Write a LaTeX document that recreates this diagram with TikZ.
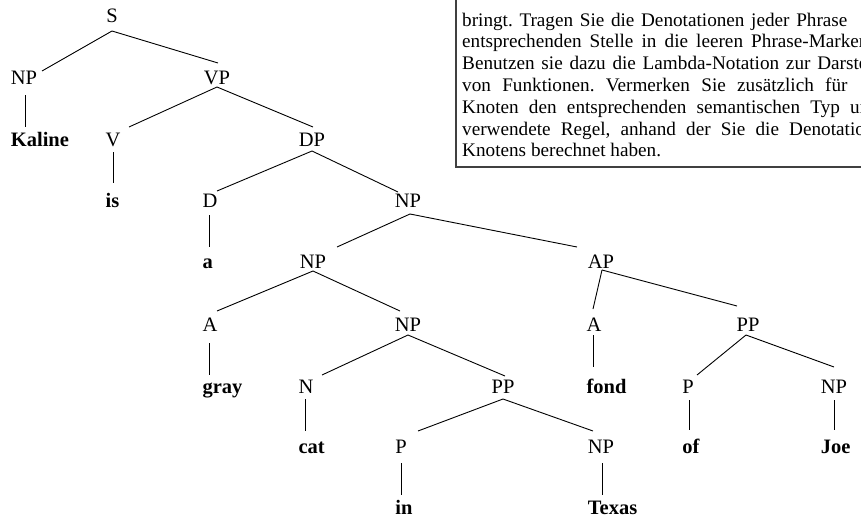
\documentclass[tikz,border=0pt]{standalone}
\usepackage{fontspec}
\setmainfont{Liberation Serif}
\usetikzlibrary{calc}
% justified line: the first words are spread over #1 pt, then the last word follows
\newcommand\jline[3]{\makebox[#1pt][s]{#2\ }#3}
\begin{document}
\frenchspacing
\begin{tikzpicture}[x=1pt,y=-1pt,
  cat/.style={font=\fontsize{20.5}{24}\selectfont, inner sep=0pt, text height=13.6pt, text depth=0pt},
  leaf/.style={cat, font=\fontsize{20.5}{24}\selectfont\bfseries, anchor=west},
  branch/.style={line width=0.9pt},
  boxtext/.style={font=\fontsize{19.2}{21.8}\selectfont, inner sep=0pt, anchor=base west},
  frame/.style={line width=1.2pt, draw=black!75}]
\useasboundingbox (0,0) rectangle (861,522);
\clip (0,0) rectangle (861,522);

% ---- instruction box (runs past the page edge) ----
\draw[frame] (456,-10) rectangle (880,167);
\node[boxtext] (l1) at (462,26)    {\jline{334}{bringt. Tragen Sie die Denotationen jeder}{Phrase}};
\node[boxtext] (l2) at (462,47.8)  {\jline{289}{entsprechenden Stelle in die leeren}{Phrase-Marker}};
\node[boxtext] (l3) at (462,69.6)  {\jline{355}{Benutzen sie dazu die Lambda-Notation zur}{Darstellung}};
\node[boxtext] (l4) at (462,91.4)  {\jline{363}{von Funktionen. Vermerken Sie zusätzlich}{für}};
\node[boxtext] (l5) at (462,113.2) {\jline{388}{Knoten den entsprechenden semantischen Typ}{und}};
\node[boxtext] (l6) at (462,135)   {\jline{327}{verwendete Regel, anhand der Sie die}{Denotation}};
\node[boxtext] (l7) at (462,156.8) {Knotens berechnet haben.};

% ---- category labels ----
\node[cat] (S)   at (112,16)    {S};
\node[cat] (NP1) at (24,78)     {NP};
\node[cat] (VP)  at (217,78)    {VP};
\node[cat] (V)   at (113,140)   {V};
\node[cat] (DP)  at (312,140)   {DP};
\node[cat] (D)   at (210,200.5) {D};
\node[cat] (NP2) at (408,200.5) {NP};
\node[cat] (NP3) at (313,262)   {NP};
\node[cat] (AP)  at (601,262)   {AP};
\node[cat] (A1)  at (210,325)   {A};
\node[cat] (NP4) at (408,325)   {NP};
\node[cat] (A2)  at (594,325)   {A};
\node[cat] (PP1) at (748,325)   {PP};
\node[cat] (N)   at (306,387)   {N};
\node[cat] (PP2) at (503,387)   {PP};
\node[cat] (P1)  at (688,387)   {P};
\node[cat] (NP5) at (834,387)   {NP};
\node[cat] (P2)  at (401,447)   {P};
\node[cat] (NP6) at (601,447)   {NP};

% ---- words, flush left under their category ----
\node[leaf] (kaline) at ($(NP1.west)+(0,62)$)  {Kaline};
\node[leaf] (is)     at ($(V.west)+(0,60.5)$)  {is};
\node[leaf] (a)      at ($(D.west)+(0,61.5)$)  {a};
\node[leaf] (gray)   at ($(A1.west)+(0,62)$)   {gray};
\node[leaf] (fond)   at ($(A2.west)+(0,62)$)   {fond};
\node[leaf] (cat)    at ($(N.west)+(0,60)$)    {cat};
\node[leaf] (of)     at ($(P1.west)+(0,60)$)   {of};
\node[leaf] (joe)    at ($(NP5.west)+(0,60)$)  {Joe};
\node[leaf] (in)     at ($(P2.west)+(0,61)$)   {in};
\node[leaf] (texas)  at ($(NP6.west)+(0,61)$)  {Texas};

% ---- branches ----
\draw[branch] ([shift={(0,15)}]S.center)     -- ([shift={(18,-7)}]NP1.center);
\draw[branch] ([shift={(0,15)}]S.center)     -- ([shift={(1,-15)}]VP.center);
\draw[branch] ([shift={(0,9)}]VP.center)     -- ([shift={(16,-13)}]V.center);
\draw[branch] ([shift={(0,9)}]VP.center)     -- ([shift={(1,-13)}]DP.center);
\draw[branch] ([shift={(0,11)}]DP.center)    -- ([shift={(7,-9.5)}]D.center);
\draw[branch] ([shift={(0,11)}]DP.center)    -- ([shift={(-10,-8.5)}]NP2.center);
\draw[branch] ([shift={(2,13.5)}]NP2.center) -- ([shift={(24,-15)}]NP3.center);
\draw[branch] ([shift={(2,13.5)}]NP2.center) -- ([shift={(-24,-15)}]AP.center);
\draw[branch] ([shift={(0,9)}]NP3.center)    -- ([shift={(7,-14)}]A1.center);
\draw[branch] ([shift={(0,9)}]NP3.center)    -- ([shift={(-8,-14)}]NP4.center);
\draw[branch] ([shift={(1,8)}]AP.center)     -- ([shift={(-1,-16)}]A2.center);
\draw[branch] ([shift={(1,8)}]AP.center)     -- ([shift={(-11,-19)}]PP1.center);
\draw[branch] ([shift={(0,10)}]NP4.center)   -- ([shift={(16,-12)}]N.center);
\draw[branch] ([shift={(0,10)}]NP4.center)   -- ([shift={(2,-11)}]PP2.center);
\draw[branch] ([shift={(-2,10)}]PP1.center)  -- ([shift={(9,-12)}]P1.center);
\draw[branch] ([shift={(-2,10)}]PP1.center)  -- ([shift={(0,-20)}]NP5.center);
\draw[branch] ([shift={(0,12)}]PP2.center)   -- ([shift={(17,-16)}]P2.center);
\draw[branch] ([shift={(0,12)}]PP2.center)   -- ([shift={(-8,-16)}]NP6.center);

% ---- category to word ----
\draw[branch] ([shift={(1,17)}]NP1.center)  -- ($(NP1.center |- kaline.center)+(1,-13)$);
\draw[branch] ([shift={(0,12)}]V.center)    -- ($(V.center |- is.center)+(0,-18)$);
\draw[branch] ([shift={(-1,14.5)}]D.center) -- ($(D.center |- a.center)+(-1,-15)$);
\draw[branch] ([shift={(-1,18)}]A1.center)  -- ($(A1.center |- gray.center)+(-1,-12)$);
\draw[branch] ([shift={(-1,10)}]A2.center)  -- ($(A2.center |- fond.center)+(-1,-20)$);
\draw[branch] ([shift={(-1,12)}]N.center)   -- ($(N.center |- cat.center)+(-1,-16)$);
\draw[branch] ([shift={(1,13)}]P1.center)   -- ($(P1.center |- of.center)+(1,-17)$);
\draw[branch] ([shift={(0,13)}]NP5.center)  -- ($(NP5.center |- joe.center)+(0,-17)$);
\draw[branch] ([shift={(0,16)}]P2.center)   -- ($(P2.center |- in.center)+(0,-13)$);
\draw[branch] ([shift={(1,16)}]NP6.center)  -- ($(NP6.center |- texas.center)+(1,-13)$);
\end{tikzpicture}
\end{document}
